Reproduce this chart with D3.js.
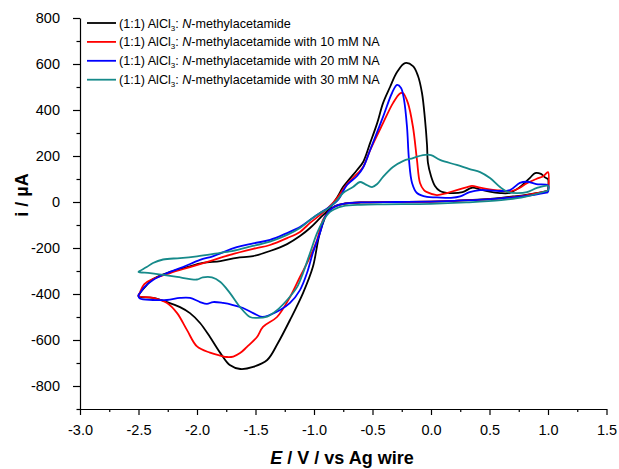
<!DOCTYPE html>
<html>
<head>
<meta charset="utf-8">
<script src="https://cdn.jsdelivr.net/npm/d3@7"></script>
<style>
  html, body { margin: 0; padding: 0; background: #fff; }
  svg { display: block; font-family: "Liberation Sans", Arial, sans-serif; }
</style>
</head>
<body>
<svg id="chart" width="619" height="469"></svg>
<script>
// Cyclic voltammograms: [E (V vs Ag wire), i (µA)] in scan order
const neatScan = [
  [1.0,48],[0.9,38],[0.8,30],[0.7,24],[0.6,18],[0.4,10],[0.2,5],[0.0,2],[-0.3,0],[-0.6,-2],[-0.75,-8],
  [-0.82,-18],[-0.88,-42],[-0.95,-135],[-1.01,-283],[-1.094,-396],[-1.205,-513],[-1.308,-613],[-1.40,-687],
  [-1.52,-717],[-1.63,-726],[-1.72,-709],[-1.80,-657],[-1.889,-587],[-1.974,-526],[-2.06,-483],[-2.145,-457],
  [-2.256,-435],[-2.376,-417],[-2.50,-410],
  [-2.487,-396],[-2.43,-361],[-2.376,-335],[-2.23,-304],[-2.085,-283],[-1.95,-265],[-1.80,-257],[-1.66,-243],
  [-1.52,-235],[-1.376,-213],[-1.23,-183],[-1.12,-148],[-1.034,-113],[-0.949,-70],[-0.88,-35],
  [-0.80,22],[-0.752,65],[-0.69,104],[-0.632,139],[-0.58,174],[-0.52,257],[-0.46,343],[-0.41,430],[-0.35,500],
  [-0.29,565],[-0.222,604],[-0.154,591],[-0.111,548],[-0.077,474],[-0.051,357],[-0.034,248],[-0.026,170],
  [0,113],[0.034,70],[0.077,48],[0.16,39],[0.27,43],[0.35,62],[0.42,55],[0.5,45],[0.59,39],[0.675,40],
  [0.76,65],[0.846,105],[0.89,126],[0.94,122],[0.98,105],[1.0,100],[1.0,48]
];

const na10Scan = [
  [1.0,48],[0.8,28],[0.6,16],[0.4,9],[0.2,5],[0.0,2],[-0.3,0],[-0.6,-2],[-0.75,-8],
  [-0.83,-22],[-0.88,-45],[-0.923,-78],[-0.974,-165],[-1.034,-239],[-1.12,-326],[-1.205,-413],[-1.316,-500],
  [-1.436,-543],[-1.487,-587],[-1.573,-630],[-1.632,-657],[-1.69,-672],[-1.744,-674],[-1.80,-668],[-1.889,-655],
  [-2.0,-628],[-2.085,-557],[-2.17,-483],[-2.256,-439],[-2.376,-417],[-2.5,-408],
  [-2.49,-396],[-2.45,-357],[-2.376,-335],[-2.23,-309],[-2.06,-283],[-1.889,-257],[-1.718,-230],[-1.52,-204],
  [-1.376,-187],[-1.23,-157],[-1.12,-130],[-1.034,-91],[-0.949,-57],[-0.88,-26],
  [-0.795,22],[-0.718,78],[-0.632,122],[-0.58,152],[-0.52,226],[-0.41,343],[-0.325,430],[-0.265,472],
  [-0.24,474],[-0.197,430],[-0.154,326],[-0.12,183],[-0.094,83],[-0.06,52],[-0.034,43],[0.05,30],[0.137,39],
  [0.22,52],[0.31,65],[0.35,70],[0.42,62],[0.5,55],[0.59,50],[0.675,46],[0.76,62],[0.82,82],[0.9,100],
  [0.96,112],[1.0,130],[1.0,48]
];

const na20Scan = [
  [1.0,42],[0.8,25],[0.6,16],[0.4,9],[0.2,5],[0.0,2],[-0.3,0],[-0.6,-2],[-0.75,-8],
  [-0.84,-25],[-0.906,-65],[-0.949,-135],[-1.01,-222],[-1.06,-309],[-1.12,-383],[-1.205,-439],[-1.29,-470],
  [-1.376,-491],[-1.444,-500],[-1.52,-483],[-1.607,-461],[-1.692,-448],[-1.778,-439],[-1.863,-435],
  [-1.915,-443],[-1.974,-435],[-2.06,-417],[-2.145,-417],[-2.256,-426],[-2.376,-426],[-2.487,-420],[-2.5,-405],
  [-2.49,-398],[-2.45,-370],[-2.376,-339],[-2.256,-309],[-2.12,-283],[-1.974,-252],[-1.86,-235],[-1.66,-196],
  [-1.52,-180],[-1.376,-165],[-1.23,-135],[-1.12,-109],[-1.034,-78],[-0.949,-48],[-0.88,-26],
  [-0.795,9],[-0.718,74],[-0.632,113],[-0.58,150],[-0.52,226],[-0.41,370],[-0.333,474],[-0.29,509],
  [-0.256,496],[-0.23,443],[-0.205,326],[-0.188,183],[-0.162,83],[-0.12,39],[-0.034,22],[0.05,20],[0.17,18],
  [0.25,24],[0.33,43],[0.42,52],[0.56,48],[0.675,52],[0.76,83],[0.82,88],[0.9,78],[1.0,72],[1.0,42]
];

const na30Scan = [
  [1.0,50],[0.8,22],[0.6,8],[0.3,-2],[0.0,-8],[-0.4,-10],[-0.6,-12],[-0.75,-18],
  [-0.82,-30],[-0.863,-43],[-0.92,-80],[-0.974,-135],[-1.034,-222],[-1.094,-309],[-1.145,-370],[-1.23,-426],
  [-1.316,-470],[-1.40,-498],[-1.487,-504],[-1.547,-500],[-1.632,-457],[-1.718,-396],[-1.80,-348],
  [-1.872,-328],[-1.95,-328],[-2.0,-337],[-2.06,-335],[-2.17,-326],[-2.29,-317],[-2.40,-309],[-2.5,-304],
  [-2.49,-300],[-2.43,-283],[-2.376,-265],[-2.29,-250],[-2.145,-244],[-2.0,-236],[-1.86,-226],[-1.72,-215],
  [-1.58,-198],[-1.376,-172],[-1.23,-143],[-1.12,-113],[-1.034,-78],[-0.949,-48],[-0.88,-28],
  [-0.80,9],[-0.752,39],[-0.667,65],[-0.607,87],[-0.564,78],[-0.504,65],[-0.46,78],[-0.41,109],[-0.325,152],
  [-0.24,178],[-0.154,191],[-0.068,204],[0.0,204],[0.077,183],[0.22,161],[0.33,143],[0.42,130],[0.504,104],
  [0.59,65],[0.66,43],[0.735,39],[0.82,43],[0.906,61],[1.0,70],[1.0,50]
];

const seriesLabels = ["", " with 10 mM NA", " with 20 mM NA", " with 30 mM NA"];
const seriesColors = ["#000000", "#ff0000", "#0000ff", "#168a8a"];
const xTicks = [-3.0, -2.5, -2.0, -1.5, -1.0, -0.5, 0.0, 0.5, 1.0, 1.5];
const yTicks = [-800, -600, -400, -200, 0, 200, 400, 600, 800];

const scans = [neatScan, na10Scan, na20Scan, na30Scan];

const svg = d3.select("#chart");
const plotLeft = 80, plotRight = 606.5, plotTop = 18, plotBottom = 409;

const x = d3.scaleLinear().domain([-3.0, 1.5]).range([plotLeft, plotRight]);
const y = d3.scaleLinear().domain([-900, 800]).range([plotBottom, plotTop]);

// axes
const fmtX = d => (d < 0 ? "-" : "") + Math.abs(d).toFixed(1);
const fmtY = d => (d < 0 ? "-" : "") + Math.abs(d);

const xAxis = svg.append("g").attr("transform", `translate(0,${plotBottom})`)
  .call(d3.axisBottom(x).tickValues(xTicks).tickFormat(fmtX).tickSize(6).tickPadding(6).tickSizeOuter(0));
svg.append("g").attr("transform", `translate(0,${plotBottom})`)
  .call(d3.axisBottom(x).tickValues(d3.range(-2.75, 1.5, 0.5)).tickFormat("").tickSize(3).tickSizeOuter(0))
  .select(".domain").remove();

const yAxis = svg.append("g").attr("transform", `translate(${plotLeft},0)`)
  .call(d3.axisLeft(y).tickValues(yTicks).tickFormat(fmtY).tickSize(7).tickPadding(13).tickSizeOuter(0));
svg.append("g").attr("transform", `translate(${plotLeft},0)`)
  .call(d3.axisLeft(y).tickValues(d3.range(-900, 800, 200)).tickFormat("").tickSize(3.5).tickSizeOuter(0))
  .select(".domain").remove();

svg.selectAll(".domain, .tick line").attr("stroke", "#000").attr("stroke-width", 1.2);
xAxis.selectAll("text").attr("font-size", 14.5).attr("fill", "#000").attr("dy", "0.95em");
yAxis.selectAll("text").attr("font-size", 14.5).attr("fill", "#000");

// axis titles
const xt = svg.append("text").attr("x", 342).attr("y", 464).attr("text-anchor", "middle")
  .attr("font-size", 18).attr("font-weight", "bold");
xt.append("tspan").attr("font-style", "italic").text("E");
xt.append("tspan").text(" / V / vs Ag wire");

svg.append("text").attr("transform", "translate(28,195) rotate(-90)").attr("text-anchor", "middle")
  .attr("font-size", 18).attr("font-weight", "bold").text("i / µA");

// curves
const line = d3.line().x(d => x(d[0])).y(d => y(d[1])).curve(d3.curveCatmullRom.alpha(0.5));
svg.append("g").selectAll("path").data(scans).join("path")
  .attr("d", line).attr("fill", "none")
  .attr("stroke", (d, i) => seriesColors[i]).attr("stroke-width", 1.8)
  .attr("stroke-linejoin", "round");

// legend
const legend = svg.append("g");
seriesLabels.forEach((lab, i) => {
  const ly = 23 + i * 18.9;
  legend.append("line").attr("x1", 87).attr("x2", 116).attr("y1", ly).attr("y2", ly)
    .attr("stroke", seriesColors[i]).attr("stroke-width", 1.8);
  const t = legend.append("text").attr("x", 119).attr("y", ly + 4.5).attr("font-size", 12.6);
  t.append("tspan").text("(1:1) AlCl");
  t.append("tspan").attr("font-size", 8).attr("dy", 3).text("3");
  t.append("tspan").attr("dy", -3).text(": ");
  t.append("tspan").attr("font-style", "italic").text("N");
  t.append("tspan").text("-methylacetamide" + lab);
});
</script>
</body>
</html>
